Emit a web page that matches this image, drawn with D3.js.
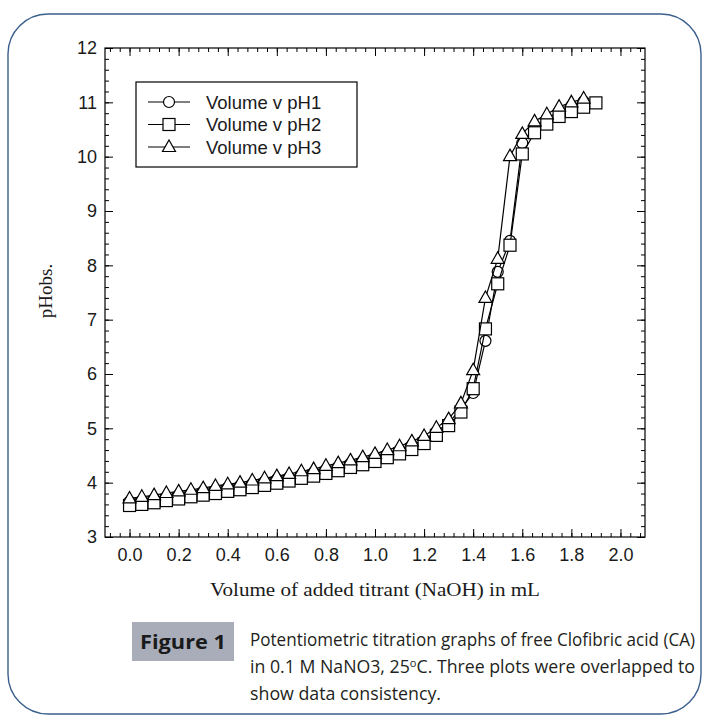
<!DOCTYPE html>
<html>
<head>
<meta charset="utf-8">
<script src="https://cdn.jsdelivr.net/npm/d3@7"></script>
<style>
  body { margin: 0; background: #fff; }
  svg { display: block; }
</style>
</head>
<body>
<script>
// titrant volumes (mL)
var volumes = [0.00, 0.05, 0.10, 0.15, 0.20, 0.25, 0.30, 0.35, 0.40, 0.45,
               0.50, 0.55, 0.60, 0.65, 0.70, 0.75, 0.80, 0.85, 0.90, 0.95,
               1.00, 1.05, 1.10, 1.15, 1.20, 1.25, 1.30, 1.35, 1.40, 1.45,
               1.50, 1.55, 1.60, 1.65, 1.70, 1.75, 1.80, 1.85, 1.90];

// observed pH, run 1 (circles)
var pH1 = [3.65, 3.67, 3.70, 3.74, 3.77, 3.80, 3.84, 3.87, 3.91, 3.94,
           3.98, 4.02, 4.06, 4.10, 4.15, 4.19, 4.24, 4.29, 4.35, 4.40,
           4.46, 4.53, 4.60, 4.69, 4.79, 4.94, 5.10, 5.36, 5.65, 6.61,
           7.88, 8.45, 10.25, 10.55, 10.70, 10.84, 10.93, 11.02];

// run 2 (squares)
var pH2 = [3.58, 3.60, 3.63, 3.67, 3.70, 3.74, 3.77, 3.80, 3.84, 3.87,
           3.91, 3.95, 3.99, 4.03, 4.08, 4.12, 4.17, 4.22, 4.28, 4.33,
           4.39, 4.46, 4.53, 4.61, 4.72, 4.87, 5.05, 5.30, 5.73, 6.83,
           7.66, 8.37, 10.05, 10.44, 10.60, 10.74, 10.83, 10.91, 10.99];

// run 3 (triangles)
var pH3 = [3.71, 3.74, 3.77, 3.81, 3.84, 3.87, 3.90, 3.94, 3.97, 4.00,
           4.04, 4.08, 4.12, 4.16, 4.21, 4.25, 4.31, 4.36, 4.41, 4.47,
           4.53, 4.60, 4.67, 4.76, 4.86, 5.01, 5.17, 5.46, 6.07, 7.40,
           8.12, 10.01, 10.42, 10.65, 10.78, 10.92, 11.00, 11.07];

var seriesNames = ["Volume v pH1", "Volume v pH2", "Volume v pH3"];
var seriesShapes = ["circle", "square", "triangle"];

var xTicks = [0.0, 0.2, 0.4, 0.6, 0.8, 1.0, 1.2, 1.4, 1.6, 1.8, 2.0];
var yTicks = [3, 4, 5, 6, 7, 8, 9, 10, 11, 12];

var xLabel = "Volume of added titrant (NaOH) in mL";
var yLabel = "pHobs.";
var figTag = "Figure 1";

function init() {
    var width = 703, height = 715;
    var left = 105, right = 645, top = 48, bottom = 537;

    var svg = d3.select("body").append("svg")
        .attr("width", width)
        .attr("height", height);

    // rounded blue page border
    svg.append("rect")
        .attr("x", 8).attr("y", 14)
        .attr("width", 693).attr("height", 700)
        .attr("rx", 40).attr("ry", 40)
        .attr("fill", "none")
        .attr("stroke", "#3b5f8c")
        .attr("stroke-width", 1.4);

    var x = d3.scaleLinear().domain([-0.1, 2.1]).range([left, right]);
    var y = d3.scaleLinear().domain([3, 12]).range([bottom, top]);

    var xMinor = d3.range(-0.08, 2.09, 0.04);
    var yMinor = d3.range(3, 12.01, 0.2);

    // ticks on all four sides, pointing in
    function addAxis(axis, tx, ty, labels) {
        var g = svg.append("g")
            .attr("transform", "translate(" + tx + "," + ty + ")")
            .call(axis);
        g.select(".domain").remove();
        g.selectAll("line").attr("stroke", "#000").attr("stroke-width", 1);
        if (labels) {
            g.selectAll("text")
                .attr("font-family", "Liberation Sans, Arial, sans-serif")
                .attr("font-size", 18)
                .attr("fill", "#1a1a1a");
        } else {
            g.selectAll("text").remove();
        }
        return g;
    }

    addAxis(d3.axisBottom(x).tickValues(xMinor).tickSize(-4), 0, bottom, false);
    addAxis(d3.axisTop(x).tickValues(xMinor).tickSize(-4), 0, top, false);
    addAxis(d3.axisLeft(y).tickValues(yMinor).tickSize(-4), left, 0, false);
    addAxis(d3.axisRight(y).tickValues(yMinor).tickSize(-4), right, 0, false);

    addAxis(d3.axisBottom(x).tickValues(xTicks).tickSize(-8).tickPadding(11)
        .tickFormat(d3.format(".1f")), 0, bottom, true);
    addAxis(d3.axisTop(x).tickValues(xTicks).tickSize(-8), 0, top, false);
    addAxis(d3.axisLeft(y).tickValues(yTicks).tickSize(-8).tickPadding(8)
        .tickFormat(d3.format("d")), left, 0, true);
    addAxis(d3.axisRight(y).tickValues(yTicks).tickSize(-8), right, 0, false);

    // frame
    svg.append("rect")
        .attr("x", left).attr("y", top)
        .attr("width", right - left).attr("height", bottom - top)
        .attr("fill", "none").attr("stroke", "#000").attr("stroke-width", 1.2);

    // axis titles
    svg.append("text")
        .attr("x", 375).attr("y", 596)
        .attr("text-anchor", "middle")
        .attr("font-family", "Liberation Serif, Times New Roman, serif")
        .attr("font-size", 19)
        .attr("textLength", 330).attr("lengthAdjust", "spacingAndGlyphs")
        .attr("fill", "#1a1a1a")
        .text(xLabel);

    svg.append("text")
        .attr("transform", "translate(52,291) rotate(-90)")
        .attr("text-anchor", "middle")
        .attr("font-family", "Liberation Serif, Times New Roman, serif")
        .attr("font-size", 19)
        .attr("fill", "#1a1a1a")
        .text(yLabel);

    function drawMarker(g, shape, cx, cy) {
        if (shape === "circle") {
            g.append("circle").attr("cx", cx).attr("cy", cy).attr("r", 5.5);
        } else if (shape === "square") {
            g.append("rect").attr("x", cx - 6).attr("y", cy - 6)
                .attr("width", 12).attr("height", 12);
        } else {
            g.append("path").attr("d", "M" + cx + "," + (cy - 7) +
                "L" + (cx + 6.5) + "," + (cy + 4.5) +
                "L" + (cx - 6.5) + "," + (cy + 4.5) + "Z");
        }
    }

    var line = d3.line()
        .x(function (d) { return x(d[0]); })
        .y(function (d) { return y(d[1]); });

    [pH1, pH2, pH3].forEach(function (vals, i) {
        var pts = vals.map(function (v, j) { return [volumes[j], v]; });
        var g = svg.append("g")
            .attr("fill", "#fff").attr("stroke", "#000").attr("stroke-width", 1.2);
        g.append("path").attr("d", line(pts)).attr("fill", "none");
        pts.forEach(function (p) {
            drawMarker(g, seriesShapes[i], x(p[0]), y(p[1]));
        });
    });

    // legend
    var lg = svg.append("g");
    lg.append("rect")
        .attr("x", 136).attr("y", 82).attr("width", 221).attr("height", 85)
        .attr("fill", "#fff").attr("stroke", "#000").attr("stroke-width", 1.2);
    seriesNames.forEach(function (name, i) {
        var ly = 102 + i * 22.5;
        var g = lg.append("g")
            .attr("fill", "#fff").attr("stroke", "#000").attr("stroke-width", 1.2);
        g.append("line").attr("x1", 148).attr("x2", 190).attr("y1", ly).attr("y2", ly);
        drawMarker(g, seriesShapes[i], 169, ly);
        lg.append("text")
            .attr("x", 206).attr("y", ly + 6.5)
            .attr("font-family", "Liberation Sans, Arial, sans-serif")
            .attr("font-size", 18.5)
            .attr("fill", "#1a1a1a")
            .text(name);
    });

    // caption
    svg.append("rect")
        .attr("x", 132).attr("y", 622).attr("width", 102).attr("height", 39)
        .attr("fill", "#a9adba");
    svg.append("text")
        .attr("x", 183).attr("y", 649)
        .attr("text-anchor", "middle")
        .attr("font-family", "Open Sans, Noto Sans, sans-serif")
        .attr("font-weight", "bold")
        .attr("font-size", 20)
        .attr("textLength", 86).attr("lengthAdjust", "spacingAndGlyphs")
        .attr("fill", "#1a1a1a")
        .text(figTag);

    var cap = svg.append("g")
        .attr("font-family", "Open Sans, Noto Sans, sans-serif")
        .attr("font-size", 17.5)
        .attr("fill", "#231f20");
    cap.append("text").attr("x", 250).attr("y", 646)
        .attr("textLength", 445).attr("lengthAdjust", "spacingAndGlyphs")
        .text("Potentiometric titration graphs of free Clofibric acid (CA)");
    var l2 = cap.append("text").attr("x", 250).attr("y", 673)
        .attr("textLength", 445).attr("lengthAdjust", "spacingAndGlyphs");
    l2.append("tspan").text("in 0.1 M NaNO3, 25");
    l2.append("tspan").attr("font-size", 11).attr("dy", -6).text("o");
    l2.append("tspan").attr("dy", 6).text("C. Three plots were overlapped to");
    cap.append("text").attr("x", 250).attr("y", 700)
        .attr("textLength", 191).attr("lengthAdjust", "spacingAndGlyphs")
        .text("show data consistency.");
}

window.onload = init;
</script>
</body>
</html>
